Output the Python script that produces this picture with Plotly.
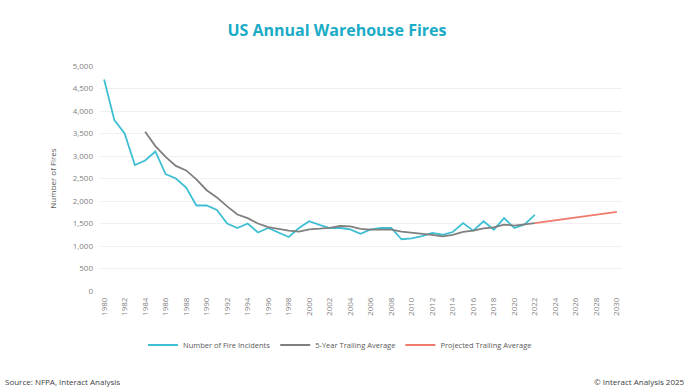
import plotly.graph_objects as go

years_actual = list(range(1980, 2023))
fire_incidents = [4700, 3800, 3500, 2800, 2900, 3100, 2600, 2500, 2300, 1900,
                  1900, 1800, 1500, 1400, 1500, 1300, 1400, 1300, 1200, 1400,
                  1550, 1470, 1400, 1400, 1370, 1270, 1370, 1400, 1400, 1150,
                  1170, 1220, 1290, 1250, 1310, 1510, 1340, 1550, 1360, 1620,
                  1400, 1480, 1690]

years_avg = list(range(1984, 2023))
trailing_avg = [3540, 3220, 2980, 2780, 2680, 2480, 2240, 2080, 1880, 1700,
                1620, 1500, 1420, 1380, 1340, 1320, 1370, 1384, 1404, 1444,
                1438, 1382, 1362, 1362, 1362, 1318, 1298, 1268, 1246, 1216,
                1248, 1316, 1340, 1392, 1414, 1476, 1454, 1482, 1510]

years_proj = list(range(2022, 2031))
projected_avg = [1510, 1540, 1570, 1600, 1630, 1660, 1692, 1726, 1760]

x_ticks = list(range(1980, 2031, 2))
y_ticks = list(range(0, 5001, 500))

FONT = "Open Sans"

fig = go.Figure()
fig.add_trace(go.Scatter(x=years_actual, y=fire_incidents, mode="lines",
                         name="Number of Fire Incidents",
                         line=dict(color="#3FBFD3", width=1.8)))
fig.add_trace(go.Scatter(x=years_avg, y=trailing_avg, mode="lines",
                         name="5-Year Trailing Average",
                         line=dict(color="#7F7F7F", width=1.8)))
fig.add_trace(go.Scatter(x=years_proj, y=projected_avg, mode="lines",
                         name="Projected Trailing Average",
                         line=dict(color="#EE7B6B", width=1.8)))

fig.update_layout(
    width=700, height=392,
    margin=dict(l=100, r=78, t=66, b=101, autoexpand=False),
    paper_bgcolor="white", plot_bgcolor="white",
    font=dict(family=FONT, color="#595959"),
    title=dict(text="<b>US Annual Warehouse Fires</b>", x=337 / 700, xanchor="center",
               y=1 - 30 / 392, yanchor="middle",
               font=dict(family=FONT, size=16, color="#1AABC6")),
    showlegend=True,
    legend=dict(orientation="h", x=(340 - 100) / 522, xanchor="center",
                y=-(345 - 291) / 225, yanchor="middle",
                font=dict(family=FONT, size=7.5, color="#595959"),
                itemwidth=30, tracegroupgap=0),
    xaxis=dict(range=[1979.6, 2030.5], tickmode="array", tickvals=x_ticks,
               ticktext=[str(t) for t in x_ticks], tickangle=-90,
               tickfont=dict(family=FONT, size=8, color="#7F7F7F"),
               showgrid=False, zeroline=False, showline=False, ticks="",
               ticklabelstandoff=4),
    yaxis=dict(range=[0, 5000], tickmode="array", tickvals=y_ticks,
               ticktext=[f"{v:,}" for v in y_ticks],
               tickfont=dict(family=FONT, size=8, color="#7F7F7F"),
               showgrid=True, gridcolor="#F0F0F0", gridwidth=1,
               zeroline=False, showline=False, ticks="", ticklabelstandoff=6,
               title=dict(text="Number of Fires", standoff=14,
                          font=dict(family=FONT, size=8, color="#595959"))),
)

fig.add_annotation(text="Source: NFPA, Interact Analysis", xref="paper", yref="paper",
                   x=-97 / 522, xanchor="left", y=-(381 - 291) / 225, yanchor="middle",
                   showarrow=False, font=dict(family=FONT, size=8, color="#404040"))
fig.add_annotation(text="© Interact Analysis 2025", xref="paper", yref="paper",
                   x=1 + 65 / 522, xanchor="right", y=-(381 - 291) / 225, yanchor="middle",
                   showarrow=False, font=dict(family=FONT, size=8, color="#404040"))

fig.write_html("out.html", config={"displayModeBar": False},
               post_script="document.body.style.margin='0px';")
